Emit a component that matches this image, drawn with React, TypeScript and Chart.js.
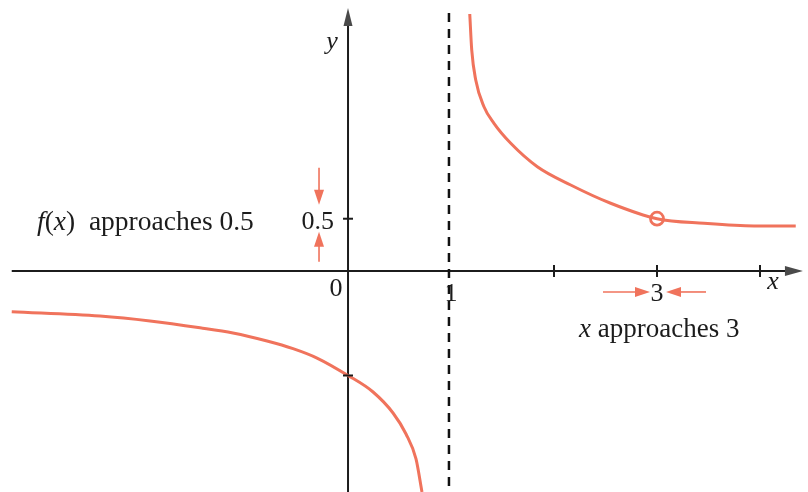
import React, { useEffect, useRef } from "react";
import { Chart, registerables } from "chart.js";

Chart.register(...registerables);

// ---- data ----
const upperX = [1.182, 1.201, 1.24, 1.32, 1.417, 1.58, 1.838, 2.162, 2.55, 3.0, 3.456, 3.942, 4.347];
const upperY = [2.459, 2.115, 1.828, 1.572, 1.413, 1.222, 0.998, 0.823, 0.648, 0.5, 0.456, 0.431, 0.431];
const lowerX = [-3.265, -2.408, -1.922, -1.437, -1.117, -0.786, -0.534, -0.301, 0.0, 0.243, 0.437, 0.563, 0.66, 0.718];
const lowerY = [-0.389, -0.431, -0.478, -0.543, -0.593, -0.67, -0.743, -0.833, -1.0, -1.158, -1.359, -1.56, -1.799, -2.115];
const asymptoteX = [0.98, 0.98];
const asymptoteY = [2.469, -2.115];
const holePoint = { x: 3, y: 0.5 };
const xTicks = [2, 3, 4];
const yTicks = [0.5, -1];
const xTickLabels = [{ v: 1, t: "1" }, { v: 3, t: "3" }];
const yTickLabels = [{ v: 0.5, t: "0.5" }];
const originLabel = "0";

const X_MIN = -3.379;
const X_MAX = 4.466;
const Y_MIN = -2.115;
const Y_MAX = 2.593;
const X_AXIS_START = -3.265;
const X_AXIS_TIP = 4.417;
const Y_AXIS_TIP = 2.517;

const CORAL = "#f0735c";
const INK = "#1c1c1c";
const SERIF = "'Liberation Serif', 'DejaVu Serif', serif";

function head(ctx: CanvasRenderingContext2D, tx: number, ty: number, dx: number, dy: number, len: number, hw: number, color: string) {
  const bx = tx - dx * len;
  const by = ty - dy * len;
  const px = -dy;
  const py = dx;
  ctx.beginPath();
  ctx.moveTo(tx, ty);
  ctx.lineTo(bx + px * hw, by + py * hw);
  ctx.lineTo(bx - px * hw, by - py * hw);
  ctx.closePath();
  ctx.fillStyle = color;
  ctx.fill();
}

function redArrow(ctx: CanvasRenderingContext2D, x1: number, y1: number, x2: number, y2: number) {
  const L = Math.hypot(x2 - x1, y2 - y1);
  const dx = (x2 - x1) / L;
  const dy = (y2 - y1) / L;
  ctx.strokeStyle = CORAL;
  ctx.lineWidth = 1.6;
  ctx.beginPath();
  ctx.moveTo(x1, y1);
  ctx.lineTo(x2 - dx * 10, y2 - dy * 10);
  ctx.stroke();
  head(ctx, x2, y2, dx, dy, 15, 5, CORAL);
}

function rich(ctx: CanvasRenderingContext2D, parts: { t: string; i?: boolean }[], x: number, y: number, size: number) {
  let cx = x;
  ctx.textAlign = "left";
  ctx.textBaseline = "alphabetic";
  ctx.fillStyle = INK;
  for (const p of parts) {
    ctx.font = `${p.i ? "italic " : ""}${size}px ${SERIF}`;
    ctx.fillText(p.t, cx, y);
    cx += ctx.measureText(p.t).width;
  }
}

const overlay = {
  id: "overlay",
  beforeDatasetsDraw(chart: any) {
    const ctx: CanvasRenderingContext2D = chart.ctx;
    const xs = chart.scales.x;
    const ys = chart.scales.y;
    const x0 = xs.getPixelForValue(0);
    const y0 = ys.getPixelForValue(0);
    ctx.save();
    ctx.strokeStyle = INK;
    ctx.lineWidth = 2;
    // x axis
    const xTip = xs.getPixelForValue(X_AXIS_TIP);
    ctx.beginPath();
    ctx.moveTo(xs.getPixelForValue(X_AXIS_START), y0);
    ctx.lineTo(xTip - 12, y0);
    ctx.stroke();
    head(ctx, xTip, y0, 1, 0, 18, 5, "#4a4a4a");
    // y axis
    const yTip = ys.getPixelForValue(Y_AXIS_TIP);
    ctx.beginPath();
    ctx.moveTo(x0, chart.chartArea.bottom);
    ctx.lineTo(x0, yTip + 12);
    ctx.stroke();
    head(ctx, x0, yTip, 0, -1, 18, 4.5, "#4a4a4a");
    // x ticks
    for (const v of xTicks) {
      const px = xs.getPixelForValue(v);
      ctx.beginPath();
      ctx.moveTo(px, y0 - 6);
      ctx.lineTo(px, y0 + 6);
      ctx.stroke();
    }
    ctx.restore();
  },
  afterDatasetsDraw(chart: any) {
    const ctx: CanvasRenderingContext2D = chart.ctx;
    const xs = chart.scales.x;
    const ys = chart.scales.y;
    const x0 = xs.getPixelForValue(0);
    const y0 = ys.getPixelForValue(0);
    ctx.save();
    // y ticks
    ctx.strokeStyle = INK;
    ctx.lineWidth = 2;
    for (const v of yTicks) {
      const py = ys.getPixelForValue(v);
      ctx.beginPath();
      ctx.moveTo(x0 - 5, py);
      ctx.lineTo(x0 + 5, py);
      ctx.stroke();
    }
    const size = 26;
    ctx.fillStyle = INK;
    ctx.font = `${size}px ${SERIF}`;
    ctx.textBaseline = "alphabetic";
    // tick labels
    ctx.textAlign = "center";
    for (const l of xTickLabels) {
      ctx.fillText(l.t, xs.getPixelForValue(l.v), y0 + 30);
    }
    ctx.fillText(originLabel, x0 - 12, y0 + 25);
    ctx.textAlign = "right";
    for (const l of yTickLabels) {
      ctx.fillText(l.t, x0 - 14, ys.getPixelForValue(l.v) + 10);
    }
    // axis names
    ctx.font = `italic ${size}px ${SERIF}`;
    ctx.textAlign = "center";
    ctx.fillText("x", xs.getPixelForValue(4) + 13, y0 + 18);
    ctx.fillText("y", x0 - 16, 49);
    // annotations
    rich(ctx, [{ t: "f", i: true }, { t: "(" }, { t: "x", i: true }, { t: ")  approaches 0.5" }], 37, 230, 27.5);
    rich(ctx, [{ t: "x", i: true }, { t: " approaches 3" }], 579, 337, 27);
    // red arrows near 3
    const p3 = xs.getPixelForValue(3);
    const ya = y0 + 21;
    redArrow(ctx, p3 - 54, ya, p3 - 7, ya);
    redArrow(ctx, p3 + 49, ya, p3 + 9, ya);
    // red arrows near 0.5
    const p5 = ys.getPixelForValue(0.5);
    const xa = x0 - 29;
    redArrow(ctx, xa, p5 - 51, xa, p5 - 14);
    redArrow(ctx, xa, p5 + 43, xa, p5 + 13);
    ctx.restore();
  },
};

export default function App() {
  const ref = useRef<HTMLCanvasElement | null>(null);
  useEffect(() => {
    if (!ref.current) return;
    const upper = upperX.map((x, i) => ({ x, y: upperY[i] }));
    const lower = lowerX.map((x, i) => ({ x, y: lowerY[i] }));
    const asym = asymptoteX.map((x, i) => ({ x, y: asymptoteY[i] }));
    const chart = new Chart(ref.current, {
      type: "scatter",
      data: {
        datasets: [
          {
            data: asym,
            showLine: true,
            borderColor: "#111",
            borderWidth: 2.5,
            borderDash: [9, 7],
            pointRadius: 0,
          },
          {
            data: upper,
            showLine: true,
            borderColor: CORAL,
            borderWidth: 3,
            pointRadius: 0,
            cubicInterpolationMode: "monotone",
          },
          {
            data: lower,
            showLine: true,
            borderColor: CORAL,
            borderWidth: 3,
            pointRadius: 0,
            cubicInterpolationMode: "monotone",
          },
          {
            data: [holePoint],
            pointRadius: 6.5,
            pointBackgroundColor: "#ffffff",
            pointBorderColor: CORAL,
            pointBorderWidth: 2.8,
          },
        ],
      } as any,
      options: {
        animation: false,
        responsive: false,
        devicePixelRatio: 1,
        layout: { padding: 0, autoPadding: false },
        plugins: { legend: { display: false }, tooltip: { enabled: false } },
        events: [],
        scales: {
          x: { type: "linear", min: X_MIN, max: X_MAX, display: false },
          y: { type: "linear", min: Y_MIN, max: Y_MAX, display: false },
        },
      } as any,
      plugins: [overlay],
    });
    return () => chart.destroy();
  }, []);
  return (
    <div style={{ position: "absolute", left: 0, top: 0, width: 808, height: 492, background: "#fff" }}>
      <canvas ref={ref} width={808} height={492} />
    </div>
  );
}
